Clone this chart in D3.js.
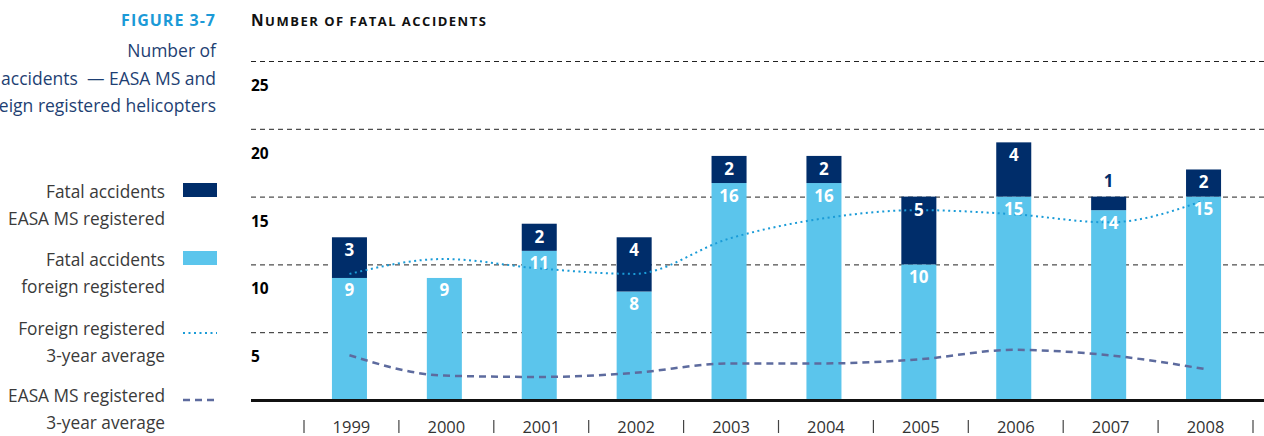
<!DOCTYPE html>
<html>
<head>
<meta charset="utf-8">
<script src="https://cdn.jsdelivr.net/npm/d3@7"></script>
<style>
  body { margin: 0; background: #fff; }
  text { font-family: "Open Sans", sans-serif; }
</style>
</head>
<body>
<svg id="svg"></svg>
<script>
var years = ["1999", "2000", "2001", "2002", "2003", "2004", "2005", "2006", "2007", "2008"];
var easaMS = [3, 0, 2, 4, 2, 2, 5, 4, 1, 2];
var foreign = [9, 9, 11, 8, 16, 16, 10, 15, 14, 15];
var foreignAvg = [9.3, 10.4, 9.7, 9.3, 11.9, 13.4, 14.0, 13.7, 13.1, 14.7];
var easaAvg = [3.3, 1.8, 1.7, 2.0, 2.7, 2.7, 3.0, 3.7, 3.3, 2.3];
var yTicks = [5, 10, 15, 20, 25];

var width = 1264;
var height = 436;
var navy = "#002d6a";
var light = "#5bc5ec";

var svg = d3.select("#svg")
    .attr("width", width)
    .attr("height", height);

var x = d3.scaleBand()
    .domain(years)
    .range([302, 1251])
    .paddingInner(0.631)
    .paddingOuter(0.3155);

var y = d3.scaleLinear()
    .domain([0, 25])
    .range([400, 61]);

var bw = x.bandwidth();
var gap = (x.step() - bw) / 2;

// headings on the left
svg.append("text")
    .attr("x", 216).attr("y", 26)
    .attr("text-anchor", "end")
    .attr("font-size", 16).attr("font-weight", "bold")
    .attr("letter-spacing", 1)
    .attr("fill", "#1b9ad7")
    .text("FIGURE 3-7");

var sub = ["Number of", "fatal accidents\u00a0 \u2014 EASA MS and", "foreign registered helicopters"];
svg.append("g").selectAll("text")
  .data(sub)
  .join("text")
    .attr("x", 216)
    .attr("y", (d, i) => [57, 85, 112][i])
    .attr("text-anchor", "end")
    .attr("font-size", 17.5)
    .attr("fill", "#1e3f73")
    .text(d => d);

// chart title in small caps, built by hand
var title = svg.append("text")
    .attr("x", 251).attr("y", 26)
    .attr("font-weight", "bold")
    .attr("letter-spacing", 1.5)
    .attr("fill", "#111");
title.append("tspan").attr("font-size", 15.5).text("N");
title.append("tspan").attr("font-size", 13).text("UMBER OF FATAL ACCIDENTS");

// gridlines + y labels
svg.append("g").selectAll("line")
  .data(yTicks)
  .join("line")
    .attr("x1", 251).attr("x2", width)
    .attr("y1", d => y(d) + 0.5).attr("y2", d => y(d) + 0.5)
    .attr("stroke", "#222")
    .attr("stroke-width", 1)
    .attr("stroke-dasharray", "5,4");

svg.append("g").selectAll("text")
  .data(yTicks)
  .join("text")
    .attr("x", 251)
    .attr("y", d => y(d) + 30)
    .attr("font-size", 15.5).attr("font-weight", "bold")
    .attr("fill", "#000")
    .text(d => d);

// stacked bars
var rows = years.map((yr, i) => ({year: yr, f: foreign[i], e: easaMS[i]}));

svg.append("g").selectAll("rect")
  .data(rows)
  .join("rect")
    .attr("x", d => x(d.year))
    .attr("width", bw)
    .attr("y", d => y(d.f))
    .attr("height", d => y(0) - y(d.f))
    .attr("fill", light);

svg.append("g").selectAll("rect")
  .data(rows.filter(d => d.e > 0))
  .join("rect")
    .attr("x", d => x(d.year))
    .attr("width", bw)
    .attr("y", d => y(d.f + d.e))
    .attr("height", d => y(d.f) - y(d.f + d.e))
    .attr("fill", navy);

// baseline
svg.append("line")
    .attr("x1", 251).attr("x2", width)
    .attr("y1", 400.5).attr("y2", 400.5)
    .attr("stroke", "#111")
    .attr("stroke-width", 3);

// 3-year averages
var line = d3.line()
    .x((d, i) => x(years[i]) + bw / 2)
    .y(d => y(d))
    .curve(d3.curveMonotoneX);

svg.append("path")
    .datum(foreignAvg)
    .attr("d", line)
    .attr("fill", "none")
    .attr("stroke", "#1a9bd7")
    .attr("stroke-width", 2)
    .attr("stroke-dasharray", "2,3.5");

svg.append("path")
    .datum(easaAvg)
    .attr("d", line)
    .attr("fill", "none")
    .attr("stroke", "#5d6b9e")
    .attr("stroke-width", 2.5)
    .attr("stroke-dasharray", "7,5");

// value labels
svg.append("g").selectAll("text")
  .data(rows)
  .join("text")
    .attr("x", d => x(d.year) + bw / 2)
    .attr("y", d => y(d.f) + 18.5)
    .attr("text-anchor", "middle")
    .attr("font-size", 17).attr("font-weight", "bold")
    .attr("fill", "#fff")
    .text(d => d.f);

svg.append("g").selectAll("text")
  .data(rows.filter(d => d.e > 0))
  .join("text")
    .attr("x", d => x(d.year) + bw / 2)
    .attr("y", d => d.e > 1 ? y(d.f + d.e) + 19 : y(d.f + d.e) - 10)
    .attr("text-anchor", "middle")
    .attr("font-size", 17).attr("font-weight", "bold")
    .attr("fill", d => d.e > 1 ? "#fff" : navy)
    .text(d => d.e);

// x axis: tick bars and years
var bounds = years.map(d => x(d) - gap).concat([x(years[years.length - 1]) + bw + gap]);
svg.append("g").selectAll("line")
  .data(bounds)
  .join("line")
    .attr("x1", d => d + 2).attr("x2", d => d + 2)
    .attr("y1", 420).attr("y2", 433)
    .attr("stroke", "#444")
    .attr("stroke-width", 1.2);

svg.append("g").selectAll("text")
  .data(years)
  .join("text")
    .attr("x", d => x(d) + bw / 2 + 2)
    .attr("y", 433)
    .attr("text-anchor", "middle")
    .attr("font-size", 16.5)
    .attr("fill", "#333")
    .text(d => d);

// legend
var legendText = [
  ["Fatal accidents", "EASA MS registered"],
  ["Fatal accidents", "foreign registered"],
  ["Foreign registered", "3-year average"],
  ["EASA MS registered", "3-year average"]
];
var legendY = [198, 266, 335, 402];

var lg = svg.append("g").selectAll("g")
  .data(legendText)
  .join("g");

lg.append("text")
    .attr("x", 165)
    .attr("y", (d, i) => legendY[i])
    .attr("text-anchor", "end")
    .attr("font-size", 17.3)
    .attr("fill", "#3a3a3a")
    .text(d => d[0]);

lg.append("text")
    .attr("x", 165)
    .attr("y", (d, i) => legendY[i] + 26.5)
    .attr("text-anchor", "end")
    .attr("font-size", 17.3)
    .attr("fill", "#3a3a3a")
    .text(d => d[1]);

svg.append("rect").attr("x", 183).attr("y", 183).attr("width", 34).attr("height", 14).attr("fill", navy);
svg.append("rect").attr("x", 183).attr("y", 251).attr("width", 34).attr("height", 14).attr("fill", light);
svg.append("line").attr("x1", 183).attr("x2", 217).attr("y1", 333).attr("y2", 333)
    .attr("stroke", "#1a9bd7").attr("stroke-width", 2).attr("stroke-dasharray", "2,3.5");
svg.append("line").attr("x1", 183).attr("x2", 217).attr("y1", 400).attr("y2", 400)
    .attr("stroke", "#5d6b9e").attr("stroke-width", 2.5).attr("stroke-dasharray", "7,5");
</script>
</body>
</html>
